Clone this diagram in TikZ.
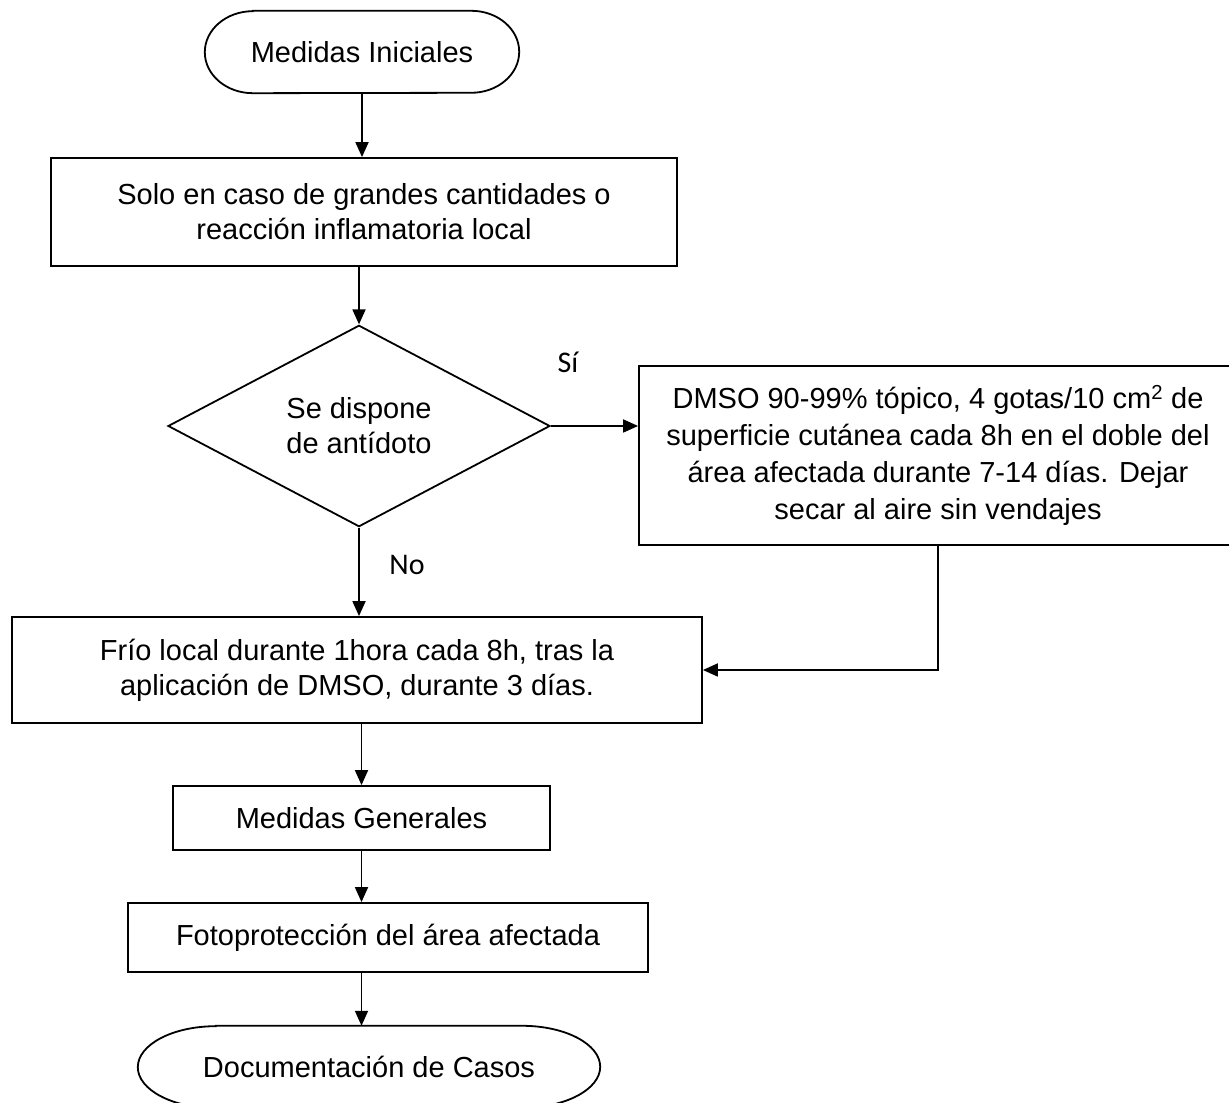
\documentclass[tikz,border=0pt]{standalone}
\usepackage{fontspec}
\setmainfont{Liberation Sans}
\newfontfamily\labelfont{Carlito}
\usetikzlibrary{arrows.meta,shapes.geometric,calc}

\begin{document}
\begin{tikzpicture}[x=1pt,y=1pt,
  line/.style={line width=1.8pt, black},
  txt/.style={font=\fontsize{29}{35}\selectfont, align=center},
  box/.style={txt, draw, line width=1.8pt, rectangle, inner sep=0pt},
  term/.style={txt, rectangle, inner sep=0pt},
  decision/.style={txt, draw, line width=1.8pt, diamond, inner sep=0pt},
  arr/.style={line width=1.8pt, -{Triangle[length=15pt,width=13pt]}},
  lbl/.style={font=\labelfont\fontsize{30}{34}\selectfont}
]
\useasboundingbox (0,0) rectangle (1229,1103);

% start terminal
\node[term, minimum width=314pt, minimum height=82pt] (start) at (362,1051) {Medidas Iniciales};
\draw[line] ($(start.north west)+(48,0)$) -- ($(start.north east)+(-48,0)$)
  arc[start angle=90,end angle=-90,x radius=48,y radius=41]
  -- ($(start.south west)+(48,0)$)
  arc[start angle=270,end angle=90,x radius=48,y radius=41] -- cycle;

% process boxes
\node[box, minimum width=626pt, minimum height=108pt] (cond) at (364,891)
  {Solo en caso de grandes cantidades o\\reacción inflamatoria local};

\node[decision, minimum width=382pt, minimum height=188pt] (dec) at (359,677)
  {Se dispone\\de antídoto};

\node[box, minimum width=598pt, minimum height=179pt, font=\fontsize{29}{37}\selectfont] (dmso) at (938,647.5)
  {DMSO 90-99\% tópico, 4 gotas/10 cm\textsuperscript{2} de\\
   superficie cutánea cada 8h en el doble del\\
   área afectada durante 7-14 días. Dejar\\
   secar al aire sin vendajes};

\node[box, minimum width=690pt, minimum height=106pt] (frio) at (357,433)
  {Frío local durante 1hora cada 8h, tras la\\aplicación de DMSO, durante 3 días.};

\node[box, minimum width=377pt, minimum height=64pt] (gen) at (361.5,285) {Medidas Generales};

\node[box, minimum width=520pt, minimum height=69pt] (foto) at (388,165.5) {Fotoprotección del área afectada};

% end terminal
\node[term, minimum width=462pt, minimum height=82pt] (doc) at (369,36) {Documentación de Casos};
\draw[line] ($(doc.north west)+(78,0)$) -- ($(doc.north east)+(-78,0)$)
  arc[start angle=90,end angle=-90,x radius=78,y radius=41]
  -- ($(doc.south west)+(78,0)$)
  arc[start angle=270,end angle=90,x radius=78,y radius=41] -- cycle;

% connectors
\draw[arr] (start.south) -- (start.south |- cond.north);
\draw[arr] (dec.north |- cond.south) -- (dec.north);
\draw[arr] (dec.east) -- (dec.east -| dmso.west);
\draw[arr] (dec.south) -- (dec.south |- frio.north);
\draw[arr] (dmso.south) -- (dmso.south |- frio.east) -- (frio.east);
\draw[arr] (gen.north |- frio.south) -- (gen.north);
\draw[arr] (gen.south) -- (gen.south |- foto.north);
\draw[arr] (gen.south |- foto.south) -- (gen.south |- doc.north);

% branch labels
\node[lbl] (si) at (568,741) {Sí};
\node[lbl] (no) at (407,538) {No};
\end{tikzpicture}
\end{document}
